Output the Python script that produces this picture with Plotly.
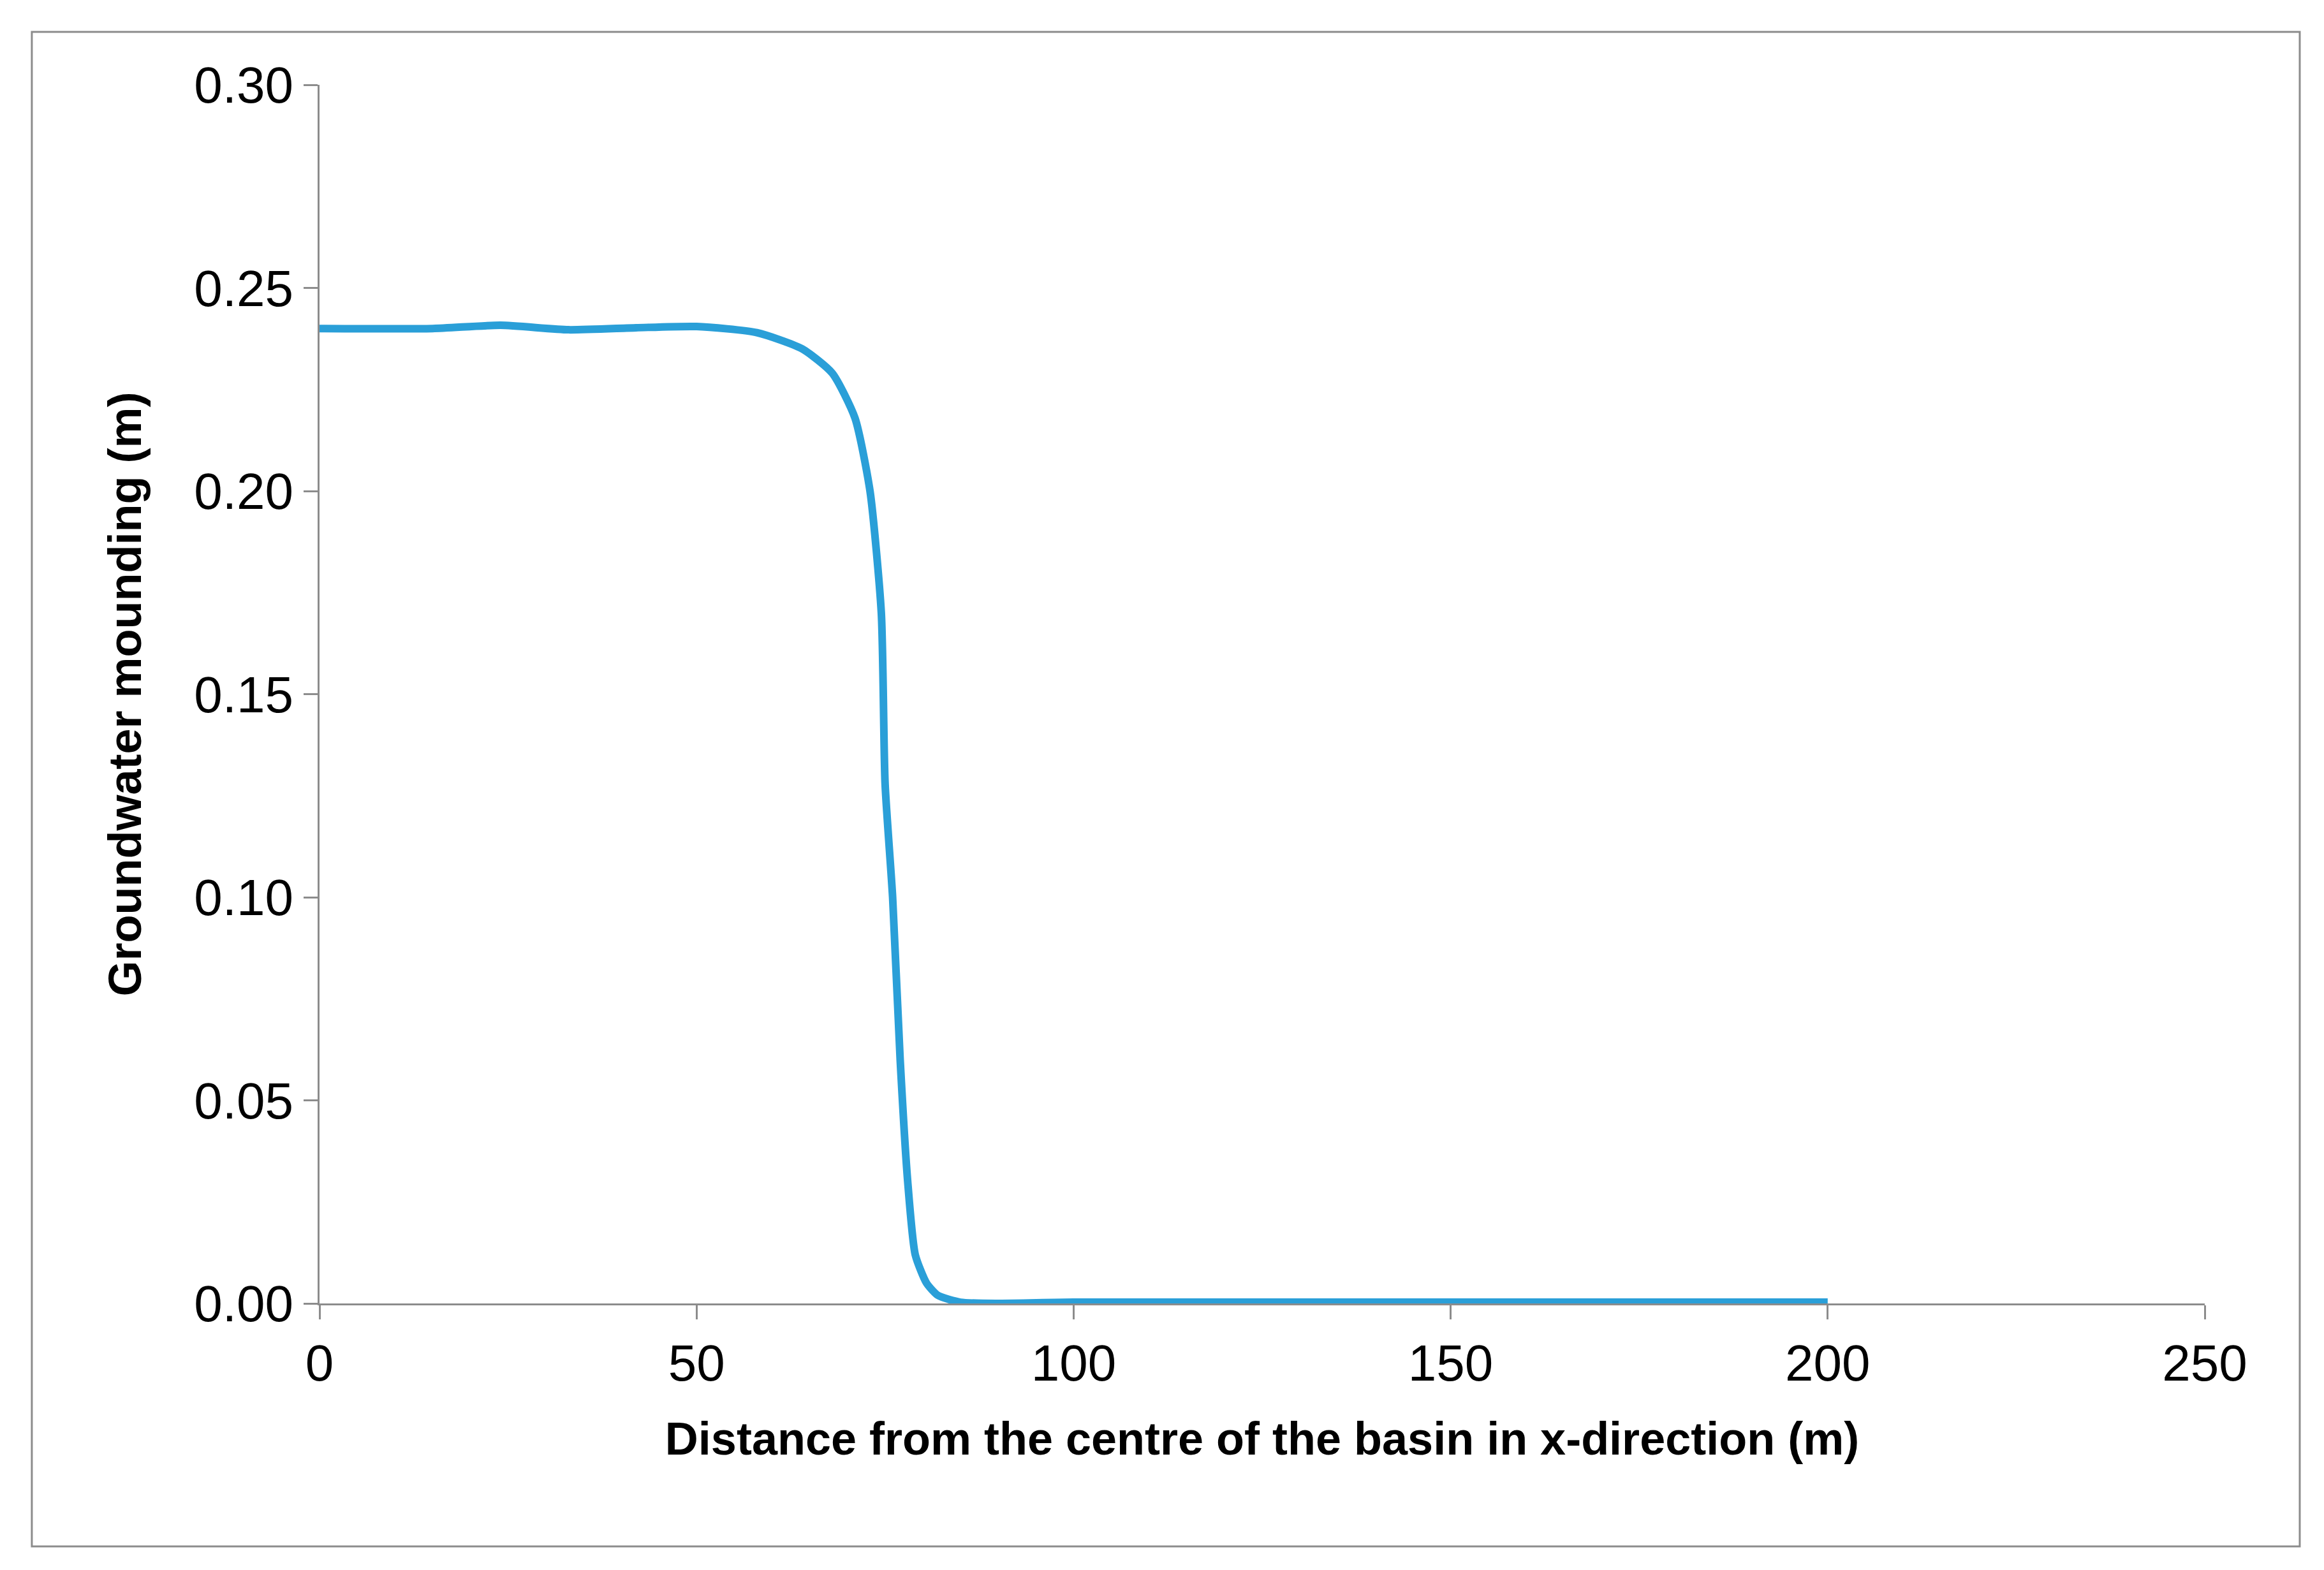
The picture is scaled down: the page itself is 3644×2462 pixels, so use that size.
import plotly.graph_objects as go

x_vals = [0, 15, 24, 33, 42, 50, 58, 64, 68, 71, 73, 74.5, 75, 76, 77, 78, 79, 80.5, 82, 85, 90, 100, 150, 200]
y_vals = [0.240, 0.240, 0.2408, 0.2397, 0.2402, 0.2405, 0.239, 0.235, 0.229, 0.218, 0.20, 0.17, 0.128, 0.10, 0.06, 0.03, 0.012, 0.005, 0.002, 0.0003, 0.0, 0.0003, 0.0003, 0.0003]

fig = go.Figure(go.Scatter(x=x_vals, y=y_vals, mode="lines",
                           line=dict(color="#2a9fd8", width=12, shape="spline", smoothing=0.6)))

font = "Liberation Sans"
axis_common = dict(showgrid=False, zeroline=False, showline=True, linecolor="#8c8c8c", linewidth=3,
                   ticks="outside", ticklen=22, tickwidth=3, tickcolor="#8c8c8c",
                   tickfont=dict(family=font, size=80, color="black"))
fig.update_layout(
    width=3644, height=2462, plot_bgcolor="white", paper_bgcolor="white",
    margin=dict(l=493, r=195, t=125, b=426), showlegend=False,
    xaxis=dict(range=[0, 250], dtick=50, title=dict(text="<b>Distance from the centre of the basin in x-direction (m)</b>",
               font=dict(family=font, size=72, color="black"), standoff=50), **axis_common),
    yaxis=dict(range=[0, 0.30], dtick=0.05, tickformat=".2f",
               title=dict(text="<b>Groundwater mounding (m)</b>", font=dict(family=font, size=72, color="black"), standoff=60),
               **axis_common),
    shapes=[dict(type="rect", xref="paper", yref="paper", x0=-0.1526, x1=1.0504, y0=-0.1994, y1=1.0434,
                 line=dict(color="#8c8c8c", width=3))],
)
fig.write_html("out.html")
